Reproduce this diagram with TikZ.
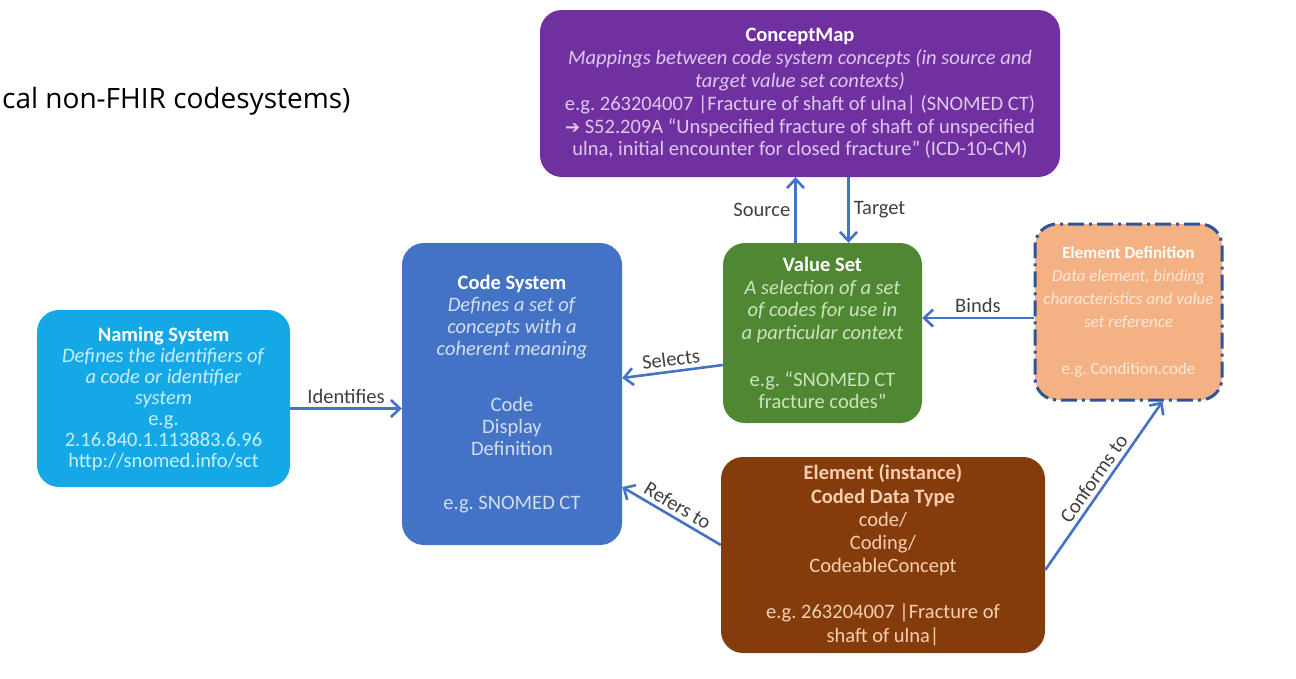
\documentclass[tikz,border=0pt]{standalone}
\usepackage{fontspec}
\setmainfont{Carlito}
\newfontfamily\headfont{Open Sans}
\newfontfamily\symfont{DejaVu Sans}
\usetikzlibrary{arrows.meta}
\frenchspacing

\definecolor{cmappurple}{RGB}{112,48,160}
\definecolor{namecyan}{RGB}{20,168,230}
\definecolor{codeblue}{RGB}{68,114,196}
\definecolor{vsgreen}{RGB}{80,135,50}
\definecolor{defpeach}{RGB}{244,177,131}
\definecolor{instbrown}{RGB}{133,60,12}
\definecolor{arrowblue}{RGB}{68,114,196}
\definecolor{dashblue}{RGB}{47,85,151}
\definecolor{labelgray}{RGB}{64,64,64}
\definecolor{palelilac}{RGB}{222,200,240}
\definecolor{palecyan}{RGB}{200,238,252}
\definecolor{paleblue}{RGB}{210,222,242}
\definecolor{palegreen}{RGB}{205,228,190}
\definecolor{palepeach}{RGB}{253,232,218}
\definecolor{palebrown}{RGB}{248,206,176}

\tikzset{
  box/.style = {shape = rectangle, rounded corners = 22pt, align = center,
    inner sep = 0pt, font = \fontsize{20.5}{22.5}\selectfont},
  flow/.style = {draw = arrowblue, line width = 2.6pt,
    -{Straight Barb[length = 9pt, width = 17pt]}},
  lbl/.style = {text = labelgray, font = \fontsize{20.5}{22}\selectfont, inner sep = 4pt}
}

\begin{document}
\begin{tikzpicture}[x = 1pt, y = 1pt]
\useasboundingbox (0, 0) rectangle (1296, -678);

\node [anchor = west, inner sep = 0pt, font = \headfont\fontsize{28}{32}\selectfont] (cut) at (2, -101) {cal non-FHIR codesystems)};

\node [box, fill = cmappurple, text = palelilac, minimum width = 520pt, minimum height = 167pt,
       font = \fontsize{20.5}{22.8}\selectfont] (cmap) at (800, -93.5)
  {{\color{white}\textbf{ConceptMap}}\\
   \textit{Mappings between code system concepts (in source and}\\
   \textit{target value set contexts)}\\
   e.g. 263204007 |Fracture of shaft of ulna| (SNOMED CT)\\
   {\symfont\fontsize{18}{22}\selectfont ➔} S52.209A “Unspecified fracture of shaft of unspecified\\
   ulna, initial encounter for closed fracture” (ICD-10-CM)};

\node [box, fill = namecyan, text = palecyan, minimum width = 253pt, minimum height = 177pt,
       font = \fontsize{20.5}{21}\selectfont] (naming) at (163.5, -398.5)
  {{\color{white}\textbf{Naming System}}\\
   \textit{Defines the identifiers of}\\
   \textit{a code or identifier}\\
   \textit{system}\\
   e.g.\\
   2.16.840.1.113883.6.96\\
   http://snomed.info/sct};

\node [box, fill = codeblue, text = paleblue, minimum width = 220pt, minimum height = 302pt,
       font = \fontsize{20.5}{22}\selectfont] (code) at (512, -394)
  {{\color{white}\textbf{Code System}}\\
   \textit{Defines a set of}\\
   \textit{concepts with a}\\
   \textit{coherent meaning}\\[34pt]
   Code\\
   Display\\
   Definition\\[32pt]
   e.g. SNOMED CT};

\node [box, fill = vsgreen, text = palegreen, minimum width = 199pt, minimum height = 180pt,
       font = \fontsize{20.5}{22.7}\selectfont] (value) at (822.5, -333)
  {{\color{white}\textbf{Value Set}}\\
   \textit{A selection of a set}\\
   \textit{of codes for use in}\\
   \textit{a particular context}\\[24pt]
   e.g. “SNOMED CT\\
   fracture codes”};

\node [box, fill = defpeach, text = palepeach, draw = dashblue, line width = 3pt,
       dash pattern = on 16pt off 5pt on 3pt off 5pt, minimum width = 187pt, minimum height = 176pt,
       font = \fontsize{17}{23}\selectfont] (def) at (1128.5, -312)
  {{\color{white}\textbf{Element Definition}}\\
   \textit{Data element, binding}\\
   \textit{characteristics and value}\\
   \textit{set reference}\\[24pt]
   e.g. Condition.code};

\node [box, fill = instbrown, text = palebrown, minimum width = 324pt, minimum height = 196pt,
       font = \fontsize{20.5}{23.3}\selectfont] (inst) at (883, -555)
  {\textbf{Element (instance)}\\
   \textbf{Coded Data Type}\\
   code/\\
   Coding/\\
   CodeableConcept\\[22.5pt]
   e.g. 263204007 |Fracture of\\
   shaft of ulna|};

% connectors
\path [flow] ([yshift = -10pt]naming.east) -- ([yshift = -10pt]naming.east -| code.west)
  node [lbl, midway, above] {Identifies};
\path [flow] ([yshift = -32pt]value.west) -- ([yshift = 16pt]code.east)
  node [lbl, midway, sloped, above] {Selects};
\path [flow] ([xshift = -27pt]value.north) -- ([xshift = -27pt]value.north |- cmap.south)
  node [lbl, midway, left] {Source};
\path [flow] ([xshift = 26pt]value.north |- cmap.south) -- ([xshift = 26pt]value.north)
  node [lbl, midway, right] {Target};
\path [flow] ([yshift = -6pt]def.west) -- ([yshift = -6pt]def.west -| value.east)
  node [lbl, midway, above] {Binds};
\path [flow] ([yshift = 10pt]inst.west) -- ([yshift = -93pt]code.east)
  node [lbl, midway, sloped, above] {Refers to};
\path [flow] ([yshift = -15pt]inst.east) -- ([xshift = 34pt]def.south)
  node [lbl, midway, sloped, above] {Conforms to};
\end{tikzpicture}
\end{document}
